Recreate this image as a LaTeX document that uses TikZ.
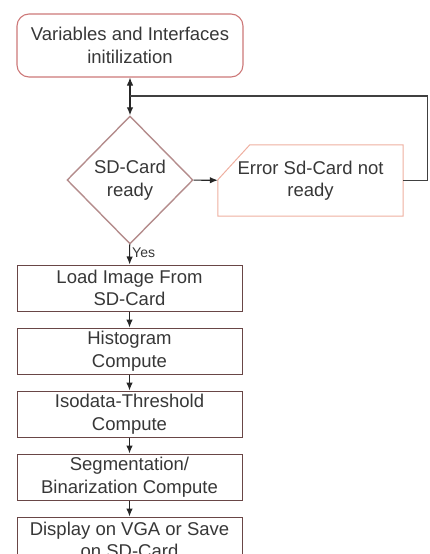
\documentclass[tikz,border=0pt]{standalone}
\usepackage{fontspec}
\setmainfont{Liberation Sans}
\usetikzlibrary{shapes.geometric, arrows.meta, positioning}
\definecolor{startred}{RGB}{205,120,120}
\definecolor{testgray}{RGB}{180,140,140}
\definecolor{errpink}{RGB}{238,175,160}
\definecolor{stepbrown}{RGB}{105,70,70}
\definecolor{txtgray}{RGB}{55,55,55}
\tikzstyle{startstop} = [rectangle, rounded corners=12pt, draw=startred, line width=1.1pt, minimum width=226pt, minimum height=63pt, inner sep=0pt, align=center]
\tikzstyle{arrow} = [line width=1.1pt, draw=black!85, -{Latex[length=8pt,width=6.5pt]}]

\begin{document}
\begin{tikzpicture}[x=1pt, y=1pt,
        node distance=16pt,
        font=\fontsize{18.5}{22.5}\selectfont,
        text=txtgray,
        process/.style={rectangle, draw=stepbrown, line width=1pt, minimum width=225pt, minimum height=46pt, inner sep=0pt, align=center},
        decision/.style={diamond, draw=testgray, line width=1.4pt, minimum width=126pt, minimum height=128pt, inner sep=0pt, align=center},
        warn/.style={rectangle, minimum width=185pt, minimum height=71pt, inner sep=0pt, align=center},
        yes/.style={font=\fontsize{14}{16}\selectfont, inner sep=2pt}
        ]
        \useasboundingbox (0,0) rectangle (429,-554);

        \node[startstop] (init) at (130,-45.5) {Variables and Interfaces\\initilization};
        \coordinate (loop) at (130,-96);
        \node[decision] (ready) at (130,-180) {SD-Card\\ready};
        \node[warn] (error) at (310.5,-180.5) {Error Sd-Card not\\ready};
        % error box with its top left corner cut off
        \draw[draw=errpink, line width=1pt] ([xshift=32pt]error.north west) -- (error.north east)
            -- (error.south east) -- (error.south west) -- ([yshift=-35pt]error.north west) -- cycle;

        \node[process] (load) at (129.5,-288) {Load Image From\\SD-Card};
        \node[process, below=of load] (hist) {Histogram\\Compute};
        \node[process, below=of hist] (iso) {Isodata-Threshold\\Compute};
        \node[process, below=of iso] (seg) {Segmentation/\\Binarization Compute};
        \node[process, below=of seg] (disp) {Display on VGA or Save\\on SD-Card};

        % retry loop back above the test
        \draw[arrow] (loop) -- (init);
        \draw[arrow] (loop) -- (ready);
        \draw[arrow] (ready) -- (error);
        \draw[line width=1.1pt, draw=black!75] (error.east) -- ++(24.5,0) |- (loop);

        \draw[arrow] (ready) -- node[pos=0.4, right, yes] {Yes} (load);
        \draw[arrow] (load) -- (hist);
        \draw[arrow] (hist) -- (iso);
        \draw[arrow] (iso) -- (seg);
        \draw[arrow] (seg) -- (disp);

    \end{tikzpicture}
\end{document}
